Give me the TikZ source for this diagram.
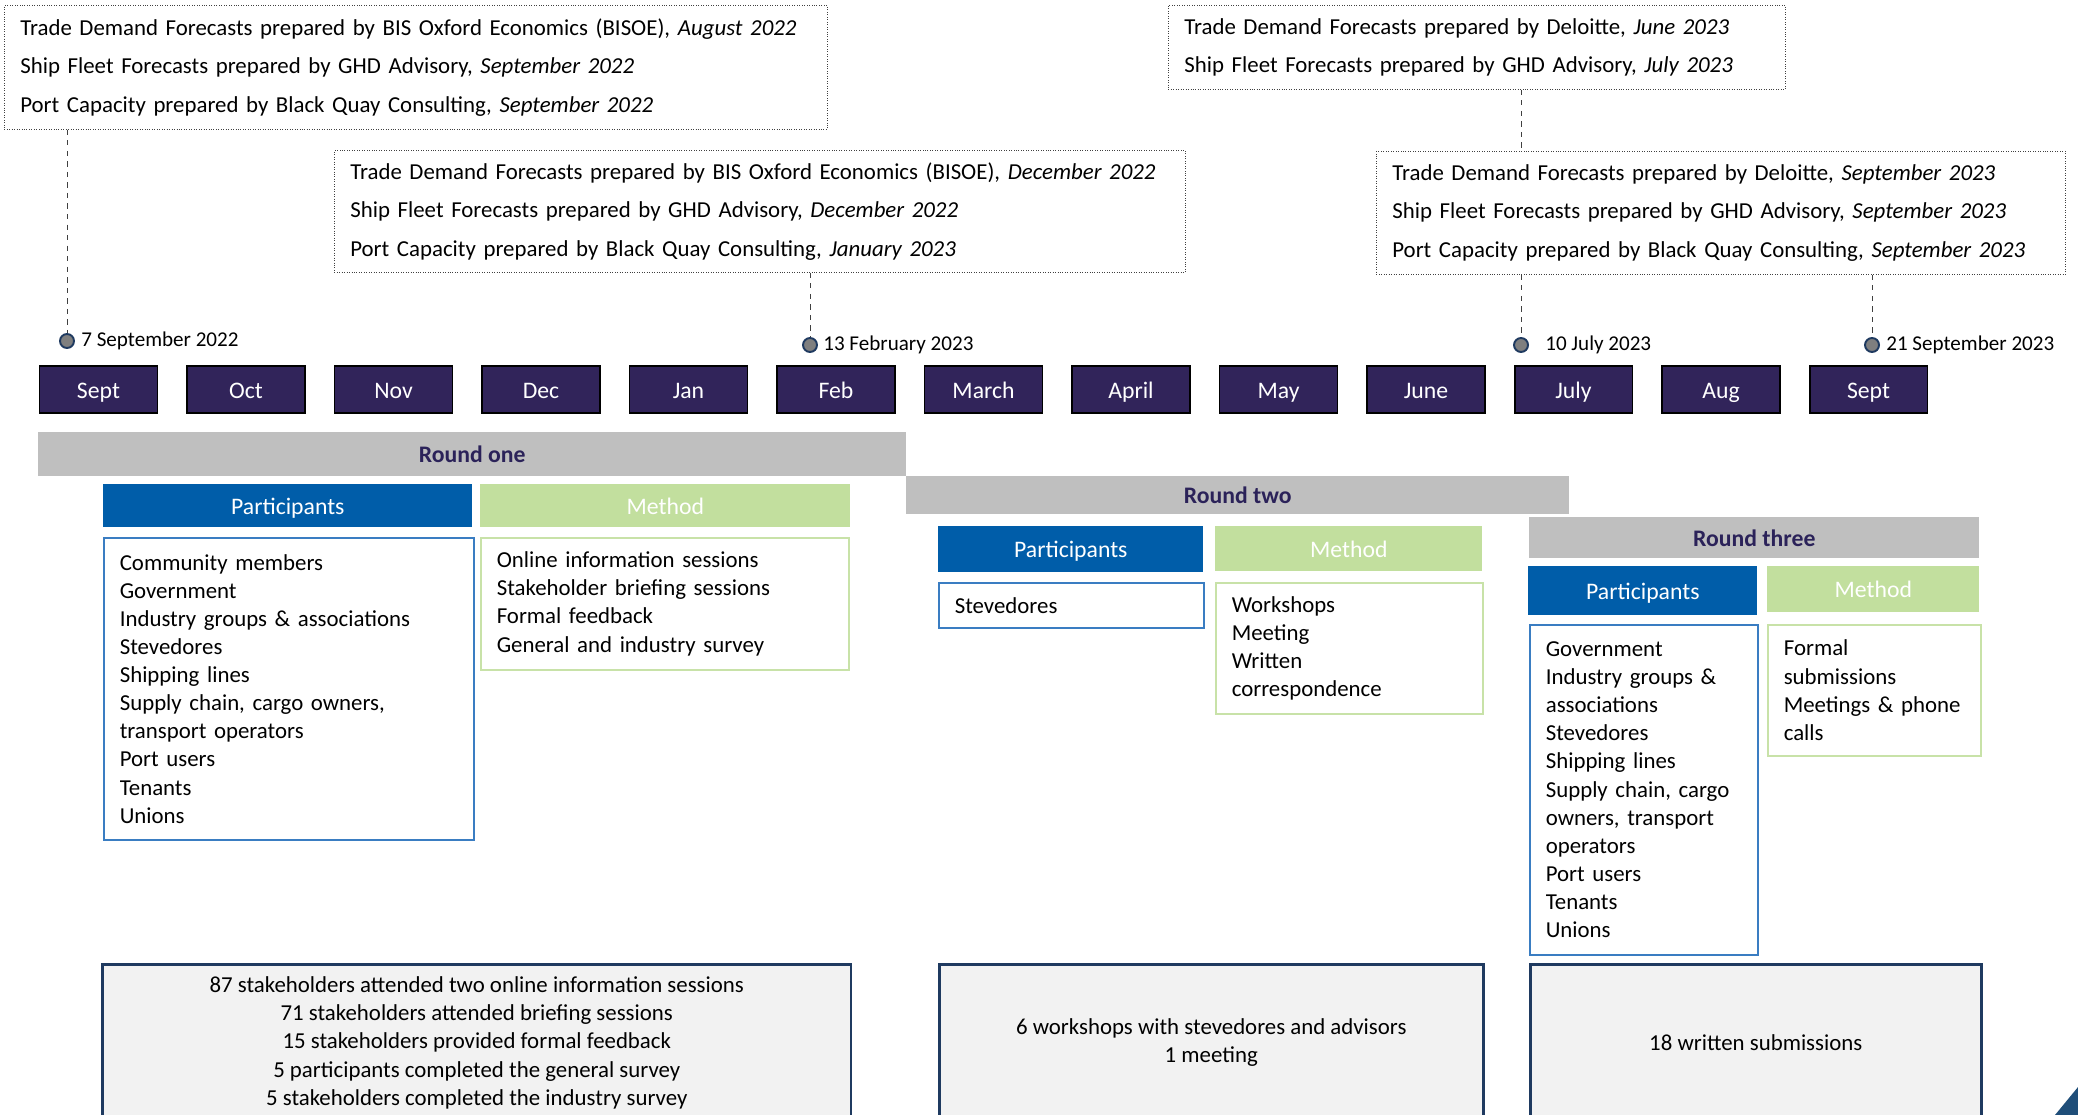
\documentclass[tikz,border=0pt]{standalone}
\usepackage{fontspec}
\setmainfont{Carlito}
\usepackage{xcolor}
\usepackage{tikz}
\usetikzlibrary{calc}
\usetikzlibrary{positioning}

\definecolor{monthpurple}{HTML}{31245A}
\definecolor{roundgray}{HTML}{BFBFBF}
\definecolor{roundtext}{HTML}{2B2259}
\definecolor{partblue}{HTML}{005DA9}
\definecolor{partline}{HTML}{3A7DC2}
\definecolor{methgreen}{HTML}{C2DF9E}
\definecolor{methline}{HTML}{C8E2A8}
\definecolor{tallygray}{HTML}{F2F2F2}
\definecolor{navy}{HTML}{1F3A60}
\definecolor{dotgray}{HTML}{7F7F7F}
\definecolor{linegray}{HTML}{404040}
\definecolor{cornerblue}{HTML}{1F4E79}

\tikzset{
  month/.style={rectangle, draw=black, line width=1.1pt, fill=monthpurple, text=white,
    minimum width=2.36cm, minimum height=0.94cm, inner sep=0pt, text height=11.5pt, text depth=1.5pt,
    font=\fontsize{13.5}{16}\selectfont},
  forecast/.style={rectangle, draw=linegray, densely dotted, thin, anchor=north west,
    align=left, inner xsep=0.32cm, inner ysep=0pt, font=\fontsize{13}{21.8}\selectfont},
  datedot/.style={circle, draw=navy, fill=dotgray, line width=1.1pt, minimum size=0.28cm, inner sep=0pt},
  datelabel/.style={anchor=west, inner sep=0pt, font=\fontsize{12}{14}\selectfont},
  roundbar/.style={rectangle, fill=roundgray, anchor=north west, inner sep=0pt,
    text height=11pt, text depth=1.5pt, text=roundtext, font=\fontsize{13.5}{16}\selectfont\bfseries},
  parthead/.style={rectangle, fill=partblue, text=white, anchor=north west, inner sep=0pt,
    text height=11pt, text depth=1.5pt, font=\fontsize{13.5}{16}\selectfont},
  methhead/.style={rectangle, fill=methgreen, text=white, anchor=north west, inner sep=0pt,
    text height=11pt, text depth=1.5pt, font=\fontsize{13.5}{16}\selectfont},
  partbody/.style={rectangle, draw=partline, line width=0.9pt, fill=white, anchor=north west,
    align=left, inner xsep=0.32cm, inner ysep=0pt, font=\fontsize{13}{16}\selectfont},
  methbody/.style={rectangle, draw=methline, line width=0.9pt, fill=white, anchor=north west,
    align=left, inner xsep=0.32cm, inner ysep=0pt, font=\fontsize{13}{16}\selectfont},
  tally/.style={rectangle, draw=navy, line width=1.5pt, fill=tallygray, anchor=north west,
    align=center, inner sep=0pt, font=\fontsize{13}{16}\selectfont},
  link/.style={draw=linegray, dashed, thin}
}

\begin{document}
\begin{tikzpicture}[x=0.02cm, y=-0.02cm]
\useasboundingbox (0,0) rectangle (2078,1115);
\fill [white] (0,0) rectangle (2078,1115);
\clip (0,0) rectangle (2078,1115);

\node [forecast, text width=15.82cm, minimum height=2.48cm] (f1) at (4,5)
  {Trade Demand Forecasts prepared by BIS Oxford Economics (BISOE), \textit{August 2022}\\
   Ship Fleet Forecasts prepared by GHD Advisory, \textit{September 2022}\\
   Port Capacity prepared by Black Quay Consulting, \textit{September 2022}};
\node [forecast, text width=16.38cm, minimum height=2.44cm] (f2) at (334,150)
  {Trade Demand Forecasts prepared by BIS Oxford Economics (BISOE), \textit{December 2022}\\
   Ship Fleet Forecasts prepared by GHD Advisory, \textit{December 2022}\\
   Port Capacity prepared by Black Quay Consulting, \textit{January 2023}};
\node [forecast, text width=11.70cm, minimum height=1.68cm] (f3) at (1168,5)
  {Trade Demand Forecasts prepared by Deloitte, \textit{June 2023}\\
   Ship Fleet Forecasts prepared by GHD Advisory, \textit{July 2023}};
\node [forecast, text width=13.14cm, minimum height=2.46cm] (f4) at (1376,151)
  {Trade Demand Forecasts prepared by Deloitte, \textit{September 2023}\\
   Ship Fleet Forecasts prepared by GHD Advisory, \textit{September 2023}\\
   Port Capacity prepared by Black Quay Consulting, \textit{September 2023}};

\node [datedot] (d1) at (67,341) {};
\node [datedot] (d2) at (810,345) {};
\node [datedot] (d3) at (1521,345) {};
\node [datedot] (d4) at (1872,345) {};
\node [datelabel, right=0.12cm of d1] (l1) {7 September 2022};
\node [datelabel, right=0.10cm of d2] (l2) {13 February 2023};
\node [datelabel, right=0.32cm of d3] (l3) {10 July 2023};
\node [datelabel, right=0.12cm of d4] (l4) {21 September 2023};

\draw [link] (d1 |- f1.south) -- (d1.north);
\draw [link] (d2 |- f2.south) -- (d2.north);
\draw [link] (d3 |- f3.south) -- (d3 |- f4.north);
\draw [link] (d3 |- f4.south) -- (d3.north);
\draw [link] (d4 |- f4.south) -- (d4.north);

\foreach \m [count=\i from 0] in {Sept,Oct,Nov,Dec,Jan,Feb,March,April,May,June,July,Aug,Sept}
  \node [month] (m\i) at (98.5+147.5*\i, 389.5) {\m};

\node [roundbar, minimum width=17.36cm, minimum height=0.88cm] (r1) at (38,432) {Round one};
\node [roundbar, minimum width=13.26cm, minimum height=0.76cm] (r2) at (906,476) {Round two};
\node [roundbar, minimum width=9.00cm, minimum height=0.82cm] (r3) at (1529,517) {Round three};

\node [parthead, minimum width=7.38cm, minimum height=0.86cm] (p1) at (103,484) {Participants};
\node [methhead, minimum width=7.40cm, minimum height=0.86cm] (h1) at (480,484) {Method};
\node [parthead, minimum width=5.30cm, minimum height=0.92cm] (p2) at (938,526) {Participants};
\node [methhead, minimum width=5.34cm, minimum height=0.90cm] (h2) at (1215,526) {Method};
\node [parthead, minimum width=4.58cm, minimum height=0.98cm] (p3) at (1528,566) {Participants};
\node [methhead, minimum width=4.24cm, minimum height=0.92cm] (h3) at (1767,566) {Method};

\node [partbody, text width=6.76cm, minimum height=6.04cm] (pb1) at (103,537)
  {Community members\\ Government\\ Industry groups \& associations\\ Stevedores\\ Shipping lines\\
   Supply chain, cargo owners,\\ transport operators\\ Port users\\ Tenants\\ Unions};
\node [methbody, text width=6.72cm, minimum height=2.64cm] (mb1) at (480,537)
  {Online information sessions\\ Stakeholder briefing sessions\\ Formal feedback\\ General and industry survey};
\node [partbody, text width=4.66cm, minimum height=0.90cm] (pb2) at (938,582) {Stevedores};
\node [methbody, text width=4.70cm, minimum height=2.62cm] (mb2) at (1215,582)
  {Workshops\\ Meeting\\ Written\\ correspondence};
\node [partbody, text width=3.92cm, minimum height=6.60cm] (pb3) at (1529,624)
  {Government\\ Industry groups \&\\ associations\\ Stevedores\\ Shipping lines\\ Supply chain, cargo\\
   owners, transport\\ operators\\ Port users\\ Tenants\\ Unions};
\node [methbody, text width=3.62cm, minimum height=2.62cm] (mb3) at (1767,624)
  {Formal\\ submissions\\ Meetings \& phone\\ calls};

\node [tally, minimum width=14.98cm, minimum height=3.14cm] (t1) at (101,963)
  {87 stakeholders attended two online information sessions\\ 71 stakeholders attended briefing sessions\\
   15 stakeholders provided formal feedback\\ 5 participants completed the general survey\\
   5 stakeholders completed the industry survey};
\node [tally, minimum width=10.88cm, minimum height=3.14cm] (t2) at (938,963)
  {6 workshops with stevedores and advisors\\ 1 meeting};
\node [tally, minimum width=9.02cm, minimum height=3.14cm] (t3) at (1529,963) {18 written submissions};

\fill [cornerblue] (2055,1115) -- (2078,1087) -- (2078,1115) -- cycle;
\end{tikzpicture}
\end{document}
